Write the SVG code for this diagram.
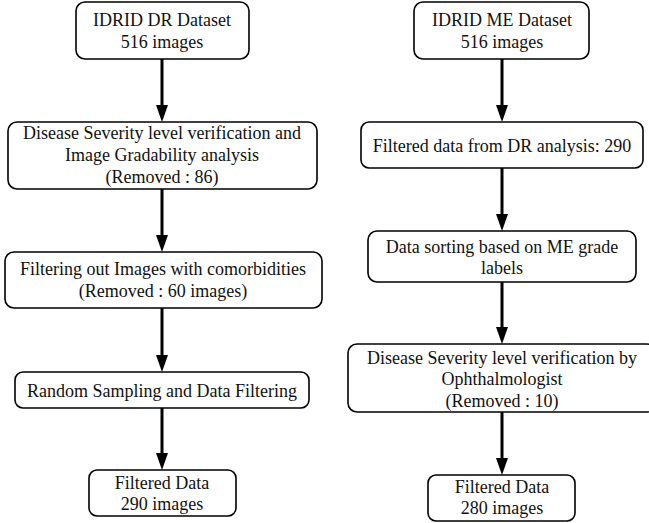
<svg xmlns="http://www.w3.org/2000/svg" width="649" height="523" viewBox="0 0 649 523">
<style>
.box{fill:#fff;stroke:#000;stroke-width:1.6}
.t{font-family:"Liberation Serif","Times New Roman",serif;font-size:18px;fill:#111;text-anchor:middle}
.c{stroke:#000;stroke-width:3;fill:none}
</style>
<defs>
<marker id="ah" markerWidth="12" markerHeight="16" refX="6" refY="16" orient="auto-start-reverse" markerUnits="userSpaceOnUse" viewBox="0 0 12 16">
<path d="M0,0 L12,0 L6,16 Z" fill="#000"/>
</marker>
</defs>
<rect width="649" height="523" fill="#fff"/>
<g id="connectors">
<line class="c" x1="162" y1="59" x2="162" y2="106"/>
<path d="M156,105 L168,105 L162,122 Z"/>
<line class="c" x1="162" y1="189" x2="162" y2="236"/>
<path d="M156,235 L168,235 L162,252 Z"/>
<line class="c" x1="162" y1="308" x2="162" y2="356"/>
<path d="M156,355 L168,355 L162,372 Z"/>
<line class="c" x1="162" y1="408" x2="162" y2="454"/>
<path d="M156,453 L168,453 L162,470 Z"/>
<line class="c" x1="502" y1="59" x2="502" y2="106"/>
<path d="M496,105 L508,105 L502,122 Z"/>
<line class="c" x1="502" y1="168" x2="502" y2="215"/>
<path d="M496,214 L508,214 L502,231 Z"/>
<line class="c" x1="502" y1="282" x2="502" y2="328"/>
<path d="M496,327 L508,327 L502,344 Z"/>
<line class="c" x1="502" y1="412" x2="502" y2="459"/>
<path d="M496,458 L508,458 L502,475 Z"/>
</g>
<g id="dr1"><rect class="box" x="76" y="2" width="173" height="57" rx="9"/>
<text class="t" x="162" y="26">IDRID DR Dataset</text><text class="t" x="162" y="48">516 images</text></g>
<g id="dr2"><rect class="box" x="8" y="122" width="309" height="67" rx="9"/>
<text class="t" x="162" y="139">Disease Severity level verification and</text>
<text class="t" x="162" y="161">Image Gradability analysis</text>
<text class="t" x="162" y="183">(Removed : 86)</text></g>
<g id="dr3"><rect class="box" x="5" y="252" width="317" height="56" rx="9"/>
<text class="t" x="163" y="275">Filtering out Images with comorbidities</text>
<text class="t" x="163" y="297">(Removed : 60 images)</text></g>
<g id="dr4"><rect class="box" x="15" y="372" width="294" height="36" rx="8"/>
<text class="t" x="162" y="397">Random Sampling and Data Filtering</text></g>
<g id="dr5"><rect class="box" x="89" y="470" width="147" height="46" rx="8"/>
<text class="t" x="162" y="489">Filtered Data</text><text class="t" x="162" y="510">290 images</text></g>
<g id="me1"><rect class="box" x="414" y="2" width="175" height="57" rx="9"/>
<text class="t" x="502" y="26">IDRID ME Dataset</text><text class="t" x="502" y="48">516 images</text></g>
<g id="me2"><rect class="box" x="361" y="122" width="282" height="46" rx="8"/>
<text class="t" x="502" y="152">Filtered data from DR analysis: 290</text></g>
<g id="me3"><rect class="box" x="368" y="231" width="268" height="51" rx="9"/>
<text class="t" x="502" y="253">Data sorting based on ME grade</text>
<text class="t" x="502" y="274">labels</text></g>
<g id="me4"><rect class="box" x="348" y="344" width="308" height="68" rx="9"/>
<text class="t" x="502" y="364">Disease Severity level verification by</text>
<text class="t" x="502" y="385">Ophthalmologist</text>
<text class="t" x="502" y="407">(Removed : 10)</text></g>
<g id="me5"><rect class="box" x="428" y="475" width="147" height="46" rx="8"/>
<text class="t" x="502" y="493">Filtered Data</text><text class="t" x="502" y="514">280 images</text></g>
</svg>
